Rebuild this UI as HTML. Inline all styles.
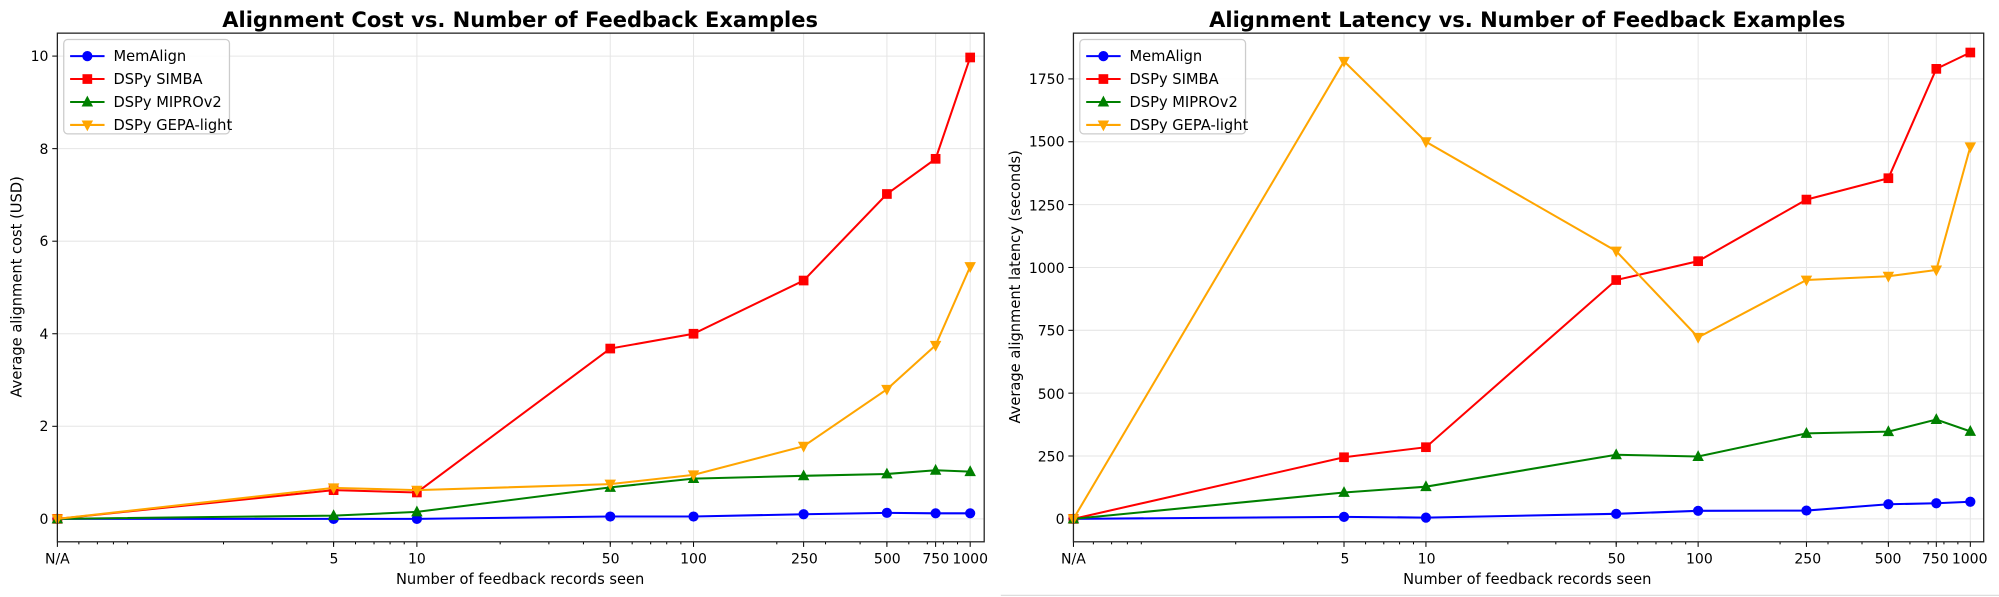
<!DOCTYPE html>
<html><head><meta charset="utf-8"><style>
html,body{margin:0;padding:0;background:#fff;}
svg{display:block;font-family:"DejaVu Sans","Liberation Sans",sans-serif;}
</style></head><body>
<svg id="s" width="1999" height="597" viewBox="0 0 1568 468.3" preserveAspectRatio="none" xmlns="http://www.w3.org/2000/svg">
<rect width="1568" height="469" fill="#fff"/>
<g id="grid" stroke="#e6e6e6" stroke-width="0.8"></g>
<g id="ticks" stroke="#000" stroke-width="0.8"></g>
<g id="data"></g>
<rect x="45" y="26" width="727" height="399" fill="none" stroke="#222" stroke-width="1"/>
<rect x="842" y="26" width="714" height="399" fill="none" stroke="#222" stroke-width="1"/>
<line x1="785" y1="467" x2="1568" y2="467" stroke="#ddd" stroke-width="1"/>
<text x="408" y="21" font-size="16.5" font-weight="bold" text-anchor="middle">Alignment Cost vs. Number of Feedback Examples</text>
<text x="1198" y="21" font-size="16.5" font-weight="bold" text-anchor="middle">Alignment Latency vs. Number of Feedback Examples</text>
<text x="408" y="458" font-size="11.5" text-anchor="middle">Number of feedback records seen</text>
<text x="1198" y="458" font-size="11.5" text-anchor="middle">Number of feedback records seen</text>
<text transform="translate(17,225) rotate(-90)" font-size="11.5" text-anchor="middle">Average alignment cost (USD)</text>
<text transform="translate(800,225) rotate(-90)" font-size="11.5" text-anchor="middle">Average alignment latency (seconds)</text>
<g font-size="11" text-anchor="end">
<text x="38" y="411">0</text><text x="38" y="338">2</text><text x="38" y="266">4</text><text x="38" y="193">6</text><text x="38" y="121">8</text><text x="38" y="48">10</text>
<text x="835" y="411">0</text><text x="835" y="362">250</text><text x="835" y="313">500</text><text x="835" y="263">750</text><text x="835" y="214">1000</text><text x="835" y="165">1250</text><text x="835" y="115">1500</text><text x="835" y="66">1750</text>
</g>
<g font-size="11" text-anchor="middle">
<text x="45" y="442">N/A</text><text x="262" y="442">5</text><text x="327" y="442">10</text><text x="479" y="442">50</text><text x="544" y="442">100</text><text x="631" y="442">250</text><text x="696" y="442">500</text><text x="734" y="442">750</text><text x="761" y="442">1000</text>
<text x="842" y="442">N/A</text><text x="1055" y="442">5</text><text x="1119" y="442">10</text><text x="1268" y="442">50</text><text x="1333" y="442">100</text><text x="1418" y="442">250</text><text x="1481" y="442">500</text><text x="1518" y="442">750</text><text x="1545" y="442">1000</text>
</g>
<g id="leg"></g>
<g font-size="11.5">
<text x="89" y="48">MemAlign</text><text x="89" y="66">DSPy SIMBA</text><text x="89" y="84">DSPy MIPROv2</text><text x="89" y="102">DSPy GEPA-light</text>
<text x="886" y="48">MemAlign</text><text x="886" y="66">DSPy SIMBA</text><text x="886" y="84">DSPy MIPROv2</text><text x="886" y="102">DSPy GEPA-light</text>
</g>
</svg>
<script>
var NS="http://www.w3.org/2000/svg";
function el(p,t,a){var e=document.createElementNS(NS,t);for(var k in a)e.setAttribute(k,a[k]);p.appendChild(e);return e;}
var vals=[null,5,10,50,100,250,500,750,1000];
var charts=[
 {x0:45,x1:772,na:45,b:110,k:217,y:function(v){return 407-v*36.3;},yt:[0,2,4,6,8,10],
  d:[[0,0,0,0.05,0.05,0.1,0.13,0.12,0.12],[0,0.62,0.57,3.68,4.0,5.15,7.02,7.78,9.97],[0,0.07,0.15,0.68,0.87,0.93,0.97,1.05,1.02],[0,0.67,0.62,0.75,0.95,1.57,2.8,3.75,5.45]],lx:50},
 {x0:842,x1:1556,na:842,b:905,k:213.5,y:function(v){return 407-v*0.1972;},yt:[0,250,500,750,1000,1250,1500,1750],
  d:[[0,8,5,20,32,33,58,62,68],[0,245,285,950,1025,1270,1355,1790,1855],[0,105,128,255,248,340,347,395,348],[0,1820,1500,1065,722,950,965,990,1480]],lx:847}
];
var cols=["#0000ff","#ff0000","#008000","#ffa500"];
var grid=document.getElementById("grid"),ticks=document.getElementById("ticks"),data=document.getElementById("data"),leg=document.getElementById("leg");
function marker(g,i,x,y,s){
 var c=cols[i];s=s||1;
 if(i==0)el(g,"circle",{cx:x,cy:y,r:4*s,fill:c});
 else if(i==1)el(g,"rect",{x:x-3.8*s,y:y-3.8*s,width:7.6*s,height:7.6*s,fill:c});
 else if(i==2)el(g,"polygon",{points:(x)+","+(y-5*s)+" "+(x+4.5*s)+","+(y+3.5*s)+" "+(x-4.5*s)+","+(y+3.5*s),fill:c});
 else el(g,"polygon",{points:(x)+","+(y+5*s)+" "+(x+4.5*s)+","+(y-3.5*s)+" "+(x-4.5*s)+","+(y-3.5*s),fill:c});
}
charts.forEach(function(c){
 var xs=vals.map(function(v){return v===null?c.na:c.b+c.k*Math.log10(v);});
 xs.forEach(function(x){el(grid,"line",{x1:x,y1:26,x2:x,y2:425});el(ticks,"line",{x1:x,y1:425,x2:x,y2:429});});
 c.yt.forEach(function(v){var y=c.y(v);el(grid,"line",{x1:c.x0,y1:y,x2:c.x1,y2:y});el(ticks,"line",{x1:c.x0-4,y1:y,x2:c.x0,y2:y});});
 for(var d=-1;d<3;d++)for(var m=2;m<10;m++){var v=m*Math.pow(10,d);var x=c.b+c.k*Math.log10(v);if(x>c.na&&x<c.x1)el(ticks,"line",{x1:x,y1:425,x2:x,y2:427});}
 c.d.forEach(function(s,i){
  var pts=s.map(function(v,j){return xs[j]+","+c.y(v);}).join(" ");
  el(data,"polyline",{points:pts,fill:"none",stroke:cols[i],"stroke-width":1.6});
  s.forEach(function(v,j){marker(data,i,xs[j],c.y(v));});
 });
 el(leg,"rect",{x:c.lx,y:31,width:130,height:74,rx:3,fill:"#fff","fill-opacity":0.85,stroke:"#ccc"});
 for(var i=0;i<4;i++){var y=44+18*i;el(leg,"line",{x1:c.lx+5,y1:y,x2:c.lx+32,y2:y,stroke:cols[i],"stroke-width":1.6});marker(leg,i,c.lx+18.5,y);}
});
</script>
</body></html>
